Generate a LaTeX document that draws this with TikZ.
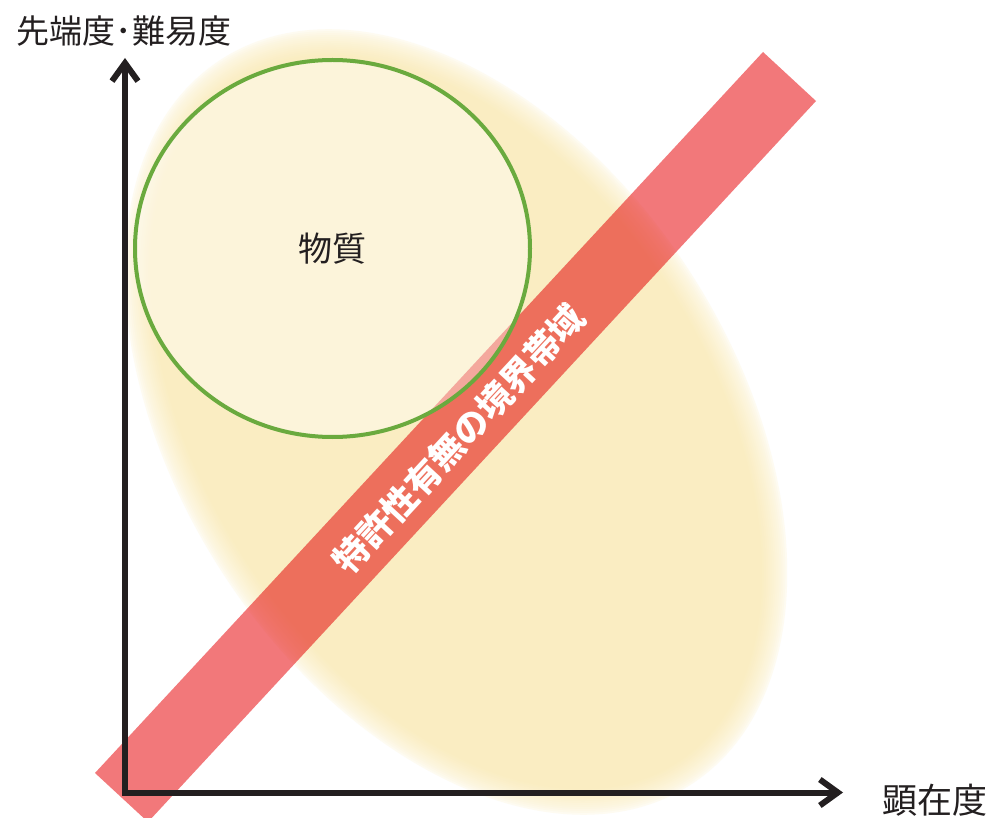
\documentclass[tikz,border=0pt]{standalone}
\usepackage{fontspec}
\setmainfont{Noto Sans CJK JP}
\usetikzlibrary{arrows.meta}
\definecolor{axisblack}{RGB}{35,31,32}
\definecolor{bandred}{RGB}{242,120,122}
\definecolor{ringgreen}{RGB}{106,170,62}
\definecolor{dotfill}{RGB}{250,237,194}
\begin{document}
\begin{tikzpicture}[x=1pt,y=-1pt,
  axisline/.style={draw=axisblack, line width=6pt, line join=miter,
    {Straight Barb[length=18pt,width=26pt]}-{Straight Barb[length=18pt,width=26pt]}},
  labeltext/.style={text=axisblack, inner sep=0pt},
  bandtext/.style={font=\bfseries\fontsize{35}{35}\selectfont, rotate=47.2, inner sep=0pt}]
\useasboundingbox (0,0) rectangle (988,818);
\fill[white] (0,0) rectangle (988,818);
% halftone halo with soft edge
\begin{scope}[transform canvas={shift={(456,422)},rotate=-57}]
  \foreach \k in {0,...,13} {
    \pgfmathsetmacro{\pct}{100*((\k+1)/14)^0.55}
    \pgfmathsetmacro{\rx}{432-2*\k}
    \pgfmathsetmacro{\ry}{278-2*\k}
    \fill[dotfill!\pct!white] (0,0) ellipse [x radius=\rx pt, y radius=\ry pt];
  }
\end{scope}
% boundary band
\coordinate (bandA) at (763,52);
\coordinate (bandB) at (816,101);
\coordinate (bandC) at (148,822);
\coordinate (bandD) at (95,773);
\fill[bandred, blend mode=multiply] (bandA) -- (bandB) -- (bandC) -- (bandD) -- cycle;
% substance circle
\coordinate (ringc) at (332.5,248.5);
\fill[white, fill opacity=0.4] (ringc) ellipse [x radius=197.5pt, y radius=188.5pt];
\draw[ringgreen, line width=4pt] (ringc) ellipse [x radius=197.5pt, y radius=188.5pt];
\node[labeltext, font=\fontsize{34}{34}\selectfont] (substance) at (ringc) {物質};
% band label
\node[bandtext, text=white] (bandlabel) at (459,439) {特許性有無の境界帯域};
% axes
\coordinate (ytip) at (125,58);
\coordinate (origin) at (125,792.5);
\coordinate (xtip) at (843,792.5);
\draw[axisline] (ytip) -- (origin) -- (xtip);
% axis labels
\node[labeltext, font=\fontsize{33}{33}\selectfont] (ylabel) at (124,31) {先端度･難易度};
\node[labeltext, font=\fontsize{35}{35}\selectfont] (xlabel) at (934.5,800) {顕在度};
\end{tikzpicture}
\end{document}
